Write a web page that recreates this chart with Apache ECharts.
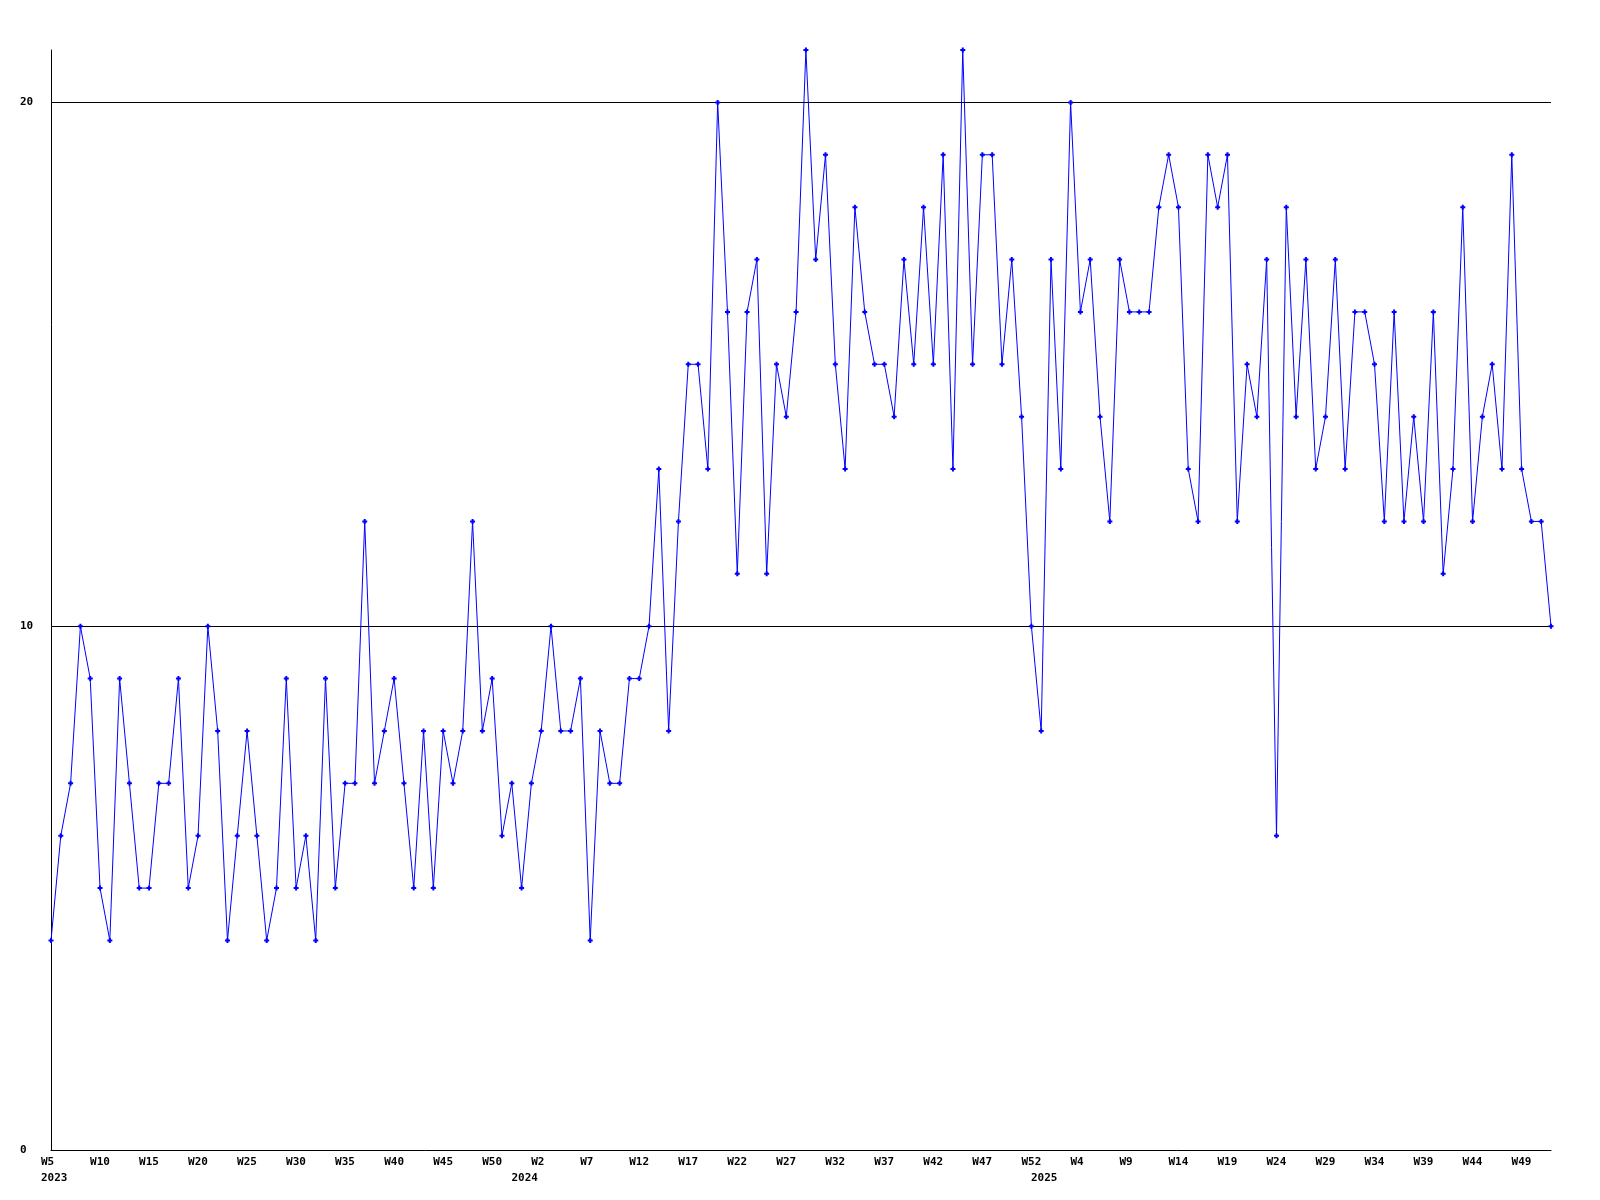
<!DOCTYPE html>
<html>
<head>
<meta charset="utf-8">
<script src="https://cdn.jsdelivr.net/npm/echarts@6/dist/echarts.min.js"></script>
<style>
  html, body { margin: 0; padding: 0; background: #ffffff; }
  #chart { width: 1600px; height: 1200px; }
</style>
</head>
<body>
<div id="chart"></div>
<script>
// Week numbering: first and last week shown for each year
const years = [2023, 2024, 2025];
const firstWeek = [5, 1, 1];
const lastWeek = [53, 53, 52];

// Weekly values, 2023 W5 .. 2025 W52
const values = [
  4, 6, 7, 10, 9, 5, 4, 9, 7, 5, 5, 7, 7, 9, 5, 6, 10, 8, 4, 6,
  8, 6, 4, 5, 9, 5, 6, 4, 9, 5, 7, 7, 12, 7, 8, 9, 7, 5, 8, 5,
  8, 7, 8, 12, 8, 9, 6, 7, 5, 7, 8, 10, 8, 8, 9, 4, 8, 7, 7, 9,
  9, 10, 13, 8, 12, 15, 15, 13, 20, 16, 11, 16, 17, 11, 15, 14, 16, 21, 17, 19,
  15, 13, 18, 16, 15, 15, 14, 17, 15, 18, 15, 19, 13, 21, 15, 19, 19, 15, 17, 14,
  10, 8, 17, 13, 20, 16, 17, 14, 12, 17, 16, 16, 16, 18, 19, 18, 13, 12, 19, 18,
  19, 12, 15, 14, 17, 6, 18, 14, 17, 13, 14, 17, 13, 16, 16, 15, 12, 16, 12, 14,
  12, 16, 11, 13, 18, 12, 14, 15, 13, 19, 13, 12, 12, 10
];

// Y axis tick values
const yTicks = [0, 10, 20];

// Build categories
const weekLabels = [];
const yearOfPoint = [];
const yearStartIdx = [];
years.forEach((y, i) => {
  yearStartIdx.push(weekLabels.length);
  for (let w = firstWeek[i]; w <= lastWeek[i]; w++) {
    weekLabels.push('W' + w);
    yearOfPoint.push(String(y));
  }
});

const FONT = 'DejaVu Sans Mono';
const chart = echarts.init(document.getElementById('chart'), null, { renderer: 'canvas' });

chart.setOption({
  animation: false,
  backgroundColor: '#ffffff',
  grid: { left: 51, right: 49, top: 50, bottom: 50, containLabel: false },
  xAxis: [
    {
      type: 'category',
      data: weekLabels,
      boundaryGap: false,
      axisLine: { show: true, lineStyle: { color: '#000', width: 1 } },
      axisTick: { show: false },
      splitLine: { show: false },
      axisLabel: {
        interval: 4,
        margin: 7,
        color: '#000',
        fontFamily: FONT,
        fontWeight: 'bold',
        fontSize: 11,
        formatter: v => '{w|' + v + '}',
        rich: { w: { width: 20, align: 'left', fontFamily: FONT, fontWeight: 'bold', fontSize: 11, color: '#000' } }
      }
    },
    {
      type: 'category',
      data: yearOfPoint,
      boundaryGap: false,
      position: 'bottom',
      offset: 16,
      axisLine: { show: false },
      axisTick: { show: false },
      splitLine: { show: false },
      axisLabel: {
        interval: (idx) => yearStartIdx.includes(idx),
        margin: 7,
        color: '#000',
        fontFamily: FONT,
        fontWeight: 'bold',
        fontSize: 11,
        formatter: (v, idx) => (idx === 0 ? '{a|' + v + '}' : '{b|' + v + '}'),
        rich: {
          a: { width: 20, align: 'left', fontFamily: FONT, fontWeight: 'bold', fontSize: 11, color: '#000' },
          b: { width: 40, align: 'left', fontFamily: FONT, fontWeight: 'bold', fontSize: 11, color: '#000' }
        }
      }
    }
  ],
  yAxis: {
    type: 'value',
    min: 0,
    max: 21,
    interval: 10,
    axisLine: { show: true, lineStyle: { color: '#000', width: 1 } },
    axisTick: { show: false },
    splitLine: { show: true, showMinLine: false, showMaxLine: false, lineStyle: { color: '#000', width: 1 } },
    axisLabel: {
      showMaxLabel: false,
      align: 'left',
      margin: 31,
      color: '#000',
      fontFamily: FONT,
      fontWeight: 'bold',
      fontSize: 11,
      formatter: v => (yTicks.includes(v) ? String(v) : '')
    }
  },
  series: [{
    type: 'line',
    data: values,
    xAxisIndex: 0,
    showAllSymbol: true,
    symbol: 'path://M1.5 0H3.5V1.5H5V3.5H3.5V5H1.5V3.5H0V1.5H1.5Z',
    symbolSize: 5,
    itemStyle: { color: '#0000ff' },
    lineStyle: { color: '#0000ff', width: 1 },
    emphasis: { disabled: true }
  }]
});
</script>
</body>
</html>
